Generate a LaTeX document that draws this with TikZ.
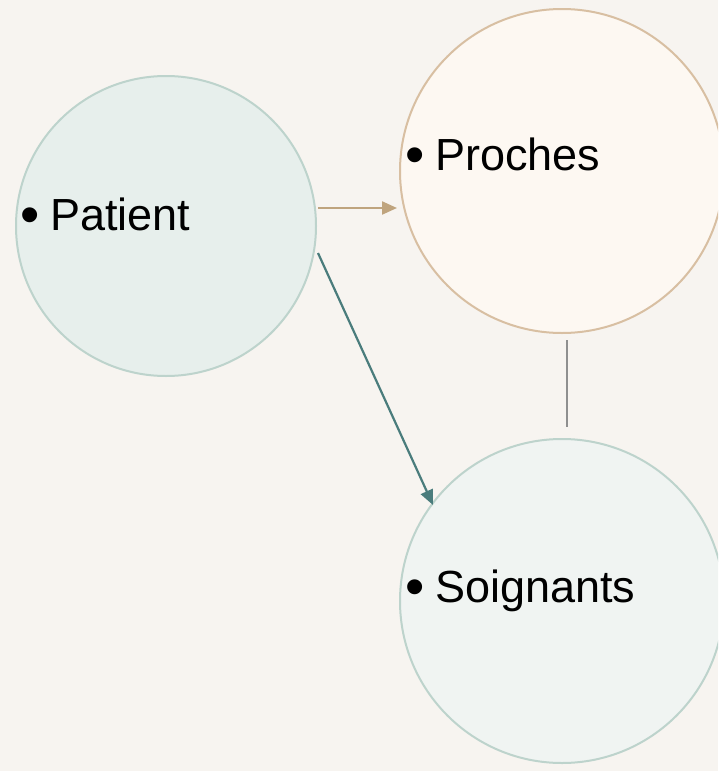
\documentclass[tikz,border=0pt]{standalone}
\usepackage{fontspec}
\setmainfont{Liberation Sans}
\usetikzlibrary{arrows.meta,calc}
\definecolor{bg}{HTML}{F7F4F0}
\definecolor{patfill}{HTML}{E7EFEC}
\definecolor{tealline}{HTML}{BDD3CC}
\definecolor{profill}{HTML}{FDF8F2}
\definecolor{proline}{HTML}{D8BFA2}
\definecolor{soifill}{HTML}{F0F4F2}
\definecolor{tanarrow}{HTML}{BFA47E}
\definecolor{tealarrow}{HTML}{4A7C7C}
\definecolor{grayline}{HTML}{8F8F8F}
\tikzset{
  bubble/.style={circle, inner sep=0pt, outer sep=0pt, line width=2pt},
  label/.style={inner sep=0pt, outer sep=0pt, anchor=base west, font=\fontsize{45}{54}\selectfont, text=black},
  bullet/.style={inner sep=0pt, outer sep=0pt, anchor=base west, font=\fontsize{55}{60}\selectfont, text=black},
  conn/.style={line width=2.2pt},
}
\begin{document}
\begin{tikzpicture}[x=1pt,y=-1pt]
\clip (0,0) rectangle (718,771);
\fill[bg] (0,0) rectangle (718,771);
\node[bubble, fill=patfill, draw=tealline, minimum size=300pt] (pat) at (166,226) {};
\node[bubble, fill=profill, draw=proline, minimum size=324pt] (pro) at (562,171) {};
\node[bubble, fill=soifill, draw=tealline, minimum size=324pt] (soi) at (562,601) {};
\node[bullet] (patb) at (20.5,233.5) {•};
\node[label] (patt) at (50,230) {Patient};
\node[bullet] (prob) at (405,173.5) {•};
\node[label] (prot) at (435,170) {Proches};
\node[bullet] (soib) at (405,605.5) {•};
\node[label] (soit) at (435,602) {Soignants};
\coordinate (a1s) at ($(pat.center)+(152,-18)$);
\coordinate (a1e) at ($(pro.center)+(-165,37)$);
\coordinate (a2s) at ($(pat.center)+(152,27)$);
\coordinate (a2e) at ($(soi.center)+(-129,-96)$);
\coordinate (l1s) at ($(pro.center)+(5,169)$);
\coordinate (l1e) at ($(soi.center)+(5,-174)$);
\draw[conn, draw=tanarrow, -{Triangle[length=15pt,width=13pt]}] (a1s) -- (a1e);
\draw[conn, draw=tealarrow, -{Triangle[length=15pt,width=13pt]}] (a2s) -- (a2e);
\draw[conn, draw=grayline] (l1s) -- (l1e);
\end{tikzpicture}
\end{document}
